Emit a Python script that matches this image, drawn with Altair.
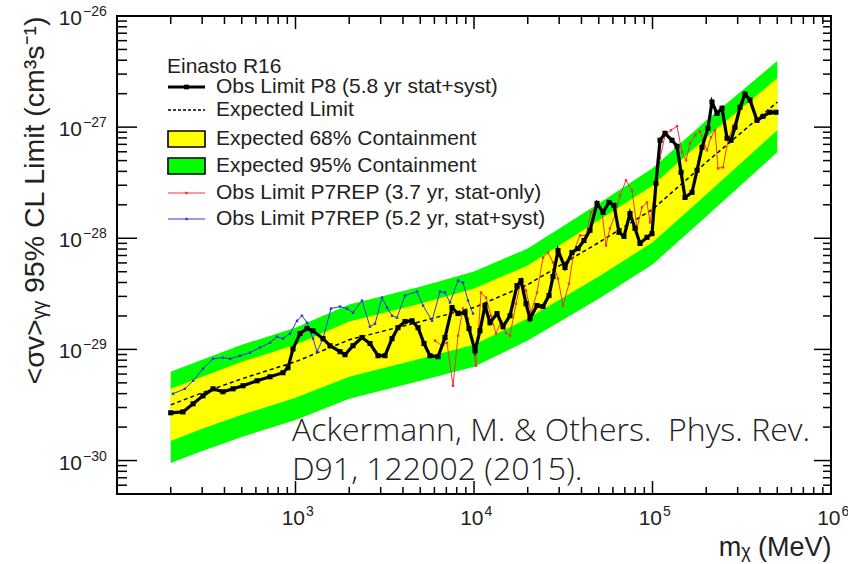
import json
import altair as alt
import pandas as pd

# ---------------- data ----------------
band_mass = [200, 300, 500, 1000, 2000, 5000, 10000, 20000, 50000, 100000, 200000, 500000]
c95_hi = [6.30e-30, 8.07e-30, 1.10e-29, 1.57e-29, 2.53e-29, 3.67e-29, 5.02e-29, 8.09e-29, 2.06e-28, 4.26e-28, 1.15e-27, 3.93e-27]
c95_lo = [9.5e-31, 1.22e-30, 1.63e-30, 2.32e-30, 3.59e-30, 5.22e-30, 6.98e-30, 1.20e-29, 2.86e-29, 5.81e-29, 1.57e-28, 5.94e-28]
c68_hi = [4.43e-30, 5.67e-30, 7.73e-30, 1.10e-29, 1.78e-29, 2.58e-29, 3.53e-29, 5.69e-29, 1.45e-28, 2.99e-28, 8.08e-28, 2.76e-27]
c68_lo = [1.50e-30, 1.93e-30, 2.58e-30, 3.67e-30, 5.67e-30, 8.25e-30, 1.10e-29, 1.90e-29, 4.52e-29, 9.18e-29, 2.48e-28, 9.39e-28]
expected = [3.17e-30, 4.07e-30, 5.44e-30, 7.75e-30, 1.22e-29, 1.78e-29, 2.38e-29, 3.83e-29, 9.16e-29, 1.82e-28, 4.82e-28, 1.68e-27]

p8_mass = [200, 234, 267, 303, 345, 392, 447, 508, 609, 720, 851, 908, 968, 1060, 1160, 1253,
           1426, 1561, 1776, 1894, 2100, 2358, 2615, 2899, 3172, 3473, 3752, 4107, 4495, 4858,
           5248, 5670, 6285, 6879, 7530, 8137, 8906, 9376, 10130, 10800, 11520, 12290, 13460,
           14540, 15910, 17410, 18340, 19560, 20590, 22540, 24350, 26320, 27710, 29550, 32350,
           35400, 38250, 41330, 44660, 48880, 52810, 57060, 60850, 64920, 69240, 74800, 79800,
           85110, 93150, 99360, 104600, 110200, 117500, 128600, 137200, 144500, 152100, 166500,
           177600, 189400, 204600, 215400, 229800, 245200, 261500, 275400, 289900, 309300,
           329900, 351800, 385100, 415900, 455300, 491800]
p8_limit = [2.69e-30, 2.74e-30, 3.24e-30, 3.82e-30, 4.42e-30, 4.16e-30, 4.42e-30, 4.71e-30, 5.22e-30,
            5.67e-30, 6.17e-30, 6.84e-30, 1.01e-29, 1.39e-29, 1.54e-29, 1.47e-29, 1.25e-29, 1.08e-29,
            9.54e-30, 8.96e-30, 1.08e-29, 1.28e-29, 1.13e-29, 8.78e-30, 8.78e-30, 1.25e-29, 1.57e-29,
            1.78e-29, 1.81e-29, 1.57e-29, 1.13e-29, 8.78e-30, 8.60e-30, 1.28e-29, 2.38e-29, 2.10e-29,
            2.14e-29, 1.54e-29, 9.73e-30, 1.47e-29, 2.48e-29, 1.74e-29, 2.10e-29, 1.60e-29, 2.01e-29,
            3.75e-29, 4.16e-29, 2.58e-29, 1.89e-29, 2.48e-29, 2.43e-29, 3.05e-29, 4.52e-29, 7.76e-29,
            5.45e-29, 7.45e-29, 8.09e-29, 9.55e-29, 1.18e-28, 2.06e-28, 1.71e-28, 2.10e-28, 1.98e-28,
            1.13e-28, 1.04e-28, 1.67e-28, 1.23e-28, 8.98e-29, 1.02e-28, 1.10e-28, 3.12e-28, 7.62e-28,
            8.81e-28, 7.62e-28, 6.73e-28, 3.92e-28, 2.33e-28, 2.59e-28, 4.09e-28, 6.59e-28, 9.77e-28,
            1.68e-27, 1.33e-27, 1.48e-27, 7.94e-28, 7.62e-28, 9.98e-28, 1.51e-27, 1.98e-27, 1.75e-27,
            1.15e-27, 1.25e-27, 1.36e-27, 1.36e-27]

p7_syst_mass = [206, 240, 267, 303, 345, 392, 430, 489, 556, 633, 720, 788, 851, 932, 1020, 1087,
                1160, 1253, 1320, 1426, 1581, 1776, 1943, 2100, 2358, 2615, 2788, 3052, 3255, 3473,
                3703, 4107, 4795, 5181, 5817, 6449, 6879, 7337, 8137, 8678, 9257, 9872]
p7_syst_limit = [3.99e-30, 4.42e-30, 5.22e-30, 6.70e-30, 8.24e-30, 8.42e-30, 8.24e-30, 8.78e-30,
                 9.34e-30, 1.04e-29, 1.15e-29, 1.30e-29, 1.25e-29, 1.39e-29, 1.81e-29, 2.01e-29,
                 1.74e-29, 1.25e-29, 9.54e-30, 1.25e-29, 2.33e-29, 2.43e-29, 2.33e-29, 2.14e-29,
                 2.75e-29, 1.60e-29, 1.70e-29, 2.92e-29, 2.38e-29, 2.01e-29, 1.93e-29, 3.05e-29,
                 3.31e-29, 2.48e-29, 1.81e-29, 3.31e-29, 3.25e-29, 2.64e-29, 4.16e-29, 3.99e-29,
                 2.75e-29, 2.10e-29]

p7_stat_mass = [6046, 6617, 7059, 7627, 8137, 8678, 9257, 9745, 10260, 10950, 11680, 12450, 13280,
                14170, 15110, 15910, 17190, 18340, 19560, 20860, 22540, 24350, 25980, 27710, 29550,
                31520, 34060, 36330, 39260, 42420, 45240, 48880, 52130, 54890, 57800, 62460, 65760,
                71060, 76780, 81900, 87350, 93150, 96830, 103300, 110200, 117500, 126900, 137200,
                146300, 154100, 162300, 173100, 184600, 191900, 202000, 212700, 224000, 232800,
                248300, 264900, 282500, 301300, 321400]
p7_stat_limit = [1.20e-29, 1.08e-29, 1.15e-29, 4.71e-30, 1.33e-29, 2.33e-29, 1.89e-29, 1.20e-29,
                 7.13e-30, 3.25e-29, 2.92e-29, 2.01e-29, 1.39e-29, 1.78e-29, 1.41e-29, 1.33e-29,
                 2.58e-29, 4.16e-29, 3.38e-29, 2.14e-29, 3.25e-29, 6.71e-29, 7.45e-29, 6.05e-29,
                 4.34e-29, 2.48e-29, 3.91e-29, 7.76e-29, 1.06e-28, 1.06e-28, 1.71e-28, 1.98e-28,
                 1.71e-28, 8.61e-29, 1.23e-28, 1.71e-28, 2.43e-28, 3.32e-28, 2.70e-28, 1.23e-28,
                 1.90e-28, 2.10e-28, 1.39e-28, 2.70e-28, 5.24e-28, 8.45e-28, 9.38e-28, 1.02e-27,
                 5.94e-28, 5.03e-28, 7.16e-28, 8.45e-28, 9.18e-28, 7.62e-28, 6.19e-28, 8.11e-28,
                 9.38e-28, 4.26e-28, 4.35e-28, 7.62e-28, 9.98e-28, 1.33e-27, 1.64e-27]

legend_title = "Einasto R16"
legend_labels = ["Obs Limit P8 (5.8 yr stat+syst)", "Expected Limit",
                 "Expected 68% Containment", "Expected 95% Containment",
                 "Obs Limit P7REP (3.7 yr, stat-only)", "Obs Limit P7REP (5.2 yr, stat+syst)"]

x_label_values = [1e3, 1e4, 1e5, 1e6]
x_label_exp = ["3", "4", "5", "6"]
y_label_values = [1e-30, 1e-29, 1e-28, 1e-27, 1e-26]
y_label_exp = ["\u221230", "\u221229", "\u221228", "\u221227", "\u221226"]
x_major = [1e2, 1e3, 1e4, 1e5, 1e6]
y_major = [1e-30, 1e-29, 1e-28, 1e-27, 1e-26]
x_minor = [m * 10.0 ** k for k in range(2, 6) for m in range(2, 10)]
y_minor = [m * 10.0 ** k for k in range(-31, -26) for m in range(2, 10) if m * 10.0 ** k >= 5e-31]

x_title = "mᵪ (MeV)"
y_title = "<σv>ᵧᵧ 95% CL Limit (cm³s⁻¹)"
caption = ["Ackermann, M. & Others.\u00a0 Phys. Rev.", "D91, 122002 (2015)."]

# ---------------- styling ----------------
W, H = 714, 478
FONT = "Liberation Sans"
TXT = "#222222"
GREEN, YELLOW, RED, BLUE = "#00ff00", "#ffff00", "#e8383c", "#3535e0"
XS = alt.Scale(type="log", domain=[100, 1e6], nice=False)
YS = alt.Scale(type="log", domain=[5e-31, 1e-26], nice=False)

band = pd.DataFrame({"mass": band_mass, "g_hi": c95_hi, "g_lo": c95_lo,
                     "y_hi": c68_hi, "y_lo": c68_lo, "exp": expected})
p8 = pd.DataFrame({"mass": p8_mass, "v": p8_limit})
p7a = pd.DataFrame({"mass": p7_stat_mass, "v": p7_stat_limit})
p7b = pd.DataFrame({"mass": p7_syst_mass, "v": p7_syst_limit})

x_axis = alt.Axis(values=x_label_values, labels=False, ticks=False, tickSize=0, domain=False,
                  grid=False, title=x_title, titleFont=FONT, titleFontSize=27,
                  titleFontWeight="normal", titleColor=TXT, titleX=714, titleY=53,
                  titleAlign="right", titleBaseline="middle")
y_axis = alt.Axis(values=y_label_values, labels=False, ticks=False, tickSize=0, domain=False,
                  grid=False, title=y_title, titleFont=FONT, titleFontSize=28.5,
                  titleFontWeight="normal", titleColor=TXT, titleX=-74, titleY=0,
                  titleAngle=270, titleAlign="right", titleBaseline="alphabetic")

X = lambda f: alt.X(f, scale=XS)
Y = lambda f: alt.Y(f, scale=YS)

green = alt.Chart(band).mark_area(color=GREEN).encode(
    x=alt.X("mass:Q", scale=XS, axis=x_axis),
    y=alt.Y("g_lo:Q", scale=YS, axis=y_axis),
    y2="g_hi:Q")
yellow = alt.Chart(band).mark_area(color=YELLOW).encode(
    x=X("mass:Q"), y=Y("y_lo:Q"), y2="y_hi:Q")
exp_line = alt.Chart(band).mark_line(color="black", strokeWidth=1.5, strokeDash=[4, 3]).encode(
    x=X("mass:Q"), y=Y("exp:Q"))


def series(df, color, width, marker_size):
    base = alt.Chart(df).encode(x=X("mass:Q"), y=Y("v:Q"))
    return [base.mark_line(color=color, strokeWidth=width),
            base.mark_point(color=color, filled=True, size=marker_size, shape="square", opacity=1)]


red_layers = series(p7a, RED, 1, 6)
blue_layers = series(p7b, BLUE, 1, 6)
black_layers = series(p8, "black", 3.2, 26)


def xticks(vals, y0, y1):
    return alt.Chart(pd.DataFrame({"t": vals})).mark_rule(color="black", strokeWidth=1.5).encode(
        x=X("t:Q"), y=alt.value(y0), y2=alt.value(y1))


def yticks(vals, x0, x1):
    return alt.Chart(pd.DataFrame({"t": vals})).mark_rule(color="black", strokeWidth=1.5).encode(
        y=Y("t:Q"), x=alt.value(x0), x2=alt.value(x1))


tick_layers = [
    xticks(x_major, H, H - 13), xticks(x_minor, H, H - 7),
    xticks(x_major, 0, 13), xticks(x_minor, 0, 8),
    yticks(y_major, 0, 20), yticks(y_minor, 0, 10),
    yticks(y_major, W, W - 17), yticks(y_minor, W, W - 8),
]

# tick labels as "10" with a raised exponent, placed through the scales
xl = pd.DataFrame({"v": x_label_values, "base": ["10"] * 4, "exp": x_label_exp})
yl = pd.DataFrame({"v": y_label_values, "base": ["10"] * 5, "exp": y_label_exp})
label_layers = [
    alt.Chart(xl).mark_text(align="right", baseline="middle", dx=9.5, font=FONT, fontSize=21,
                            color=TXT).encode(x=X("v:Q"), y=alt.value(H + 25), text="base:N"),
    alt.Chart(xl).mark_text(align="left", baseline="middle", dx=10.5, font=FONT, fontSize=14,
                            color=TXT).encode(x=X("v:Q"), y=alt.value(H + 18), text="exp:N"),
    alt.Chart(yl).mark_text(align="right", baseline="middle", dy=3, font=FONT, fontSize=21,
                            color=TXT).encode(y=Y("v:Q"), x=alt.value(-35), text="base:N"),
    alt.Chart(yl).mark_text(align="left", baseline="middle", dy=-4, font=FONT, fontSize=14,
                            color=TXT).encode(y=Y("v:Q"), x=alt.value(-34), text="exp:N"),
]

cap_df = pd.DataFrame({"line": caption})
cap_layers = [
    alt.Chart(cap_df.iloc[[i]]).mark_text(align="left", baseline="alphabetic", font="Open Sans",
                                          fontWeight=300, fontSize=32, color=TXT).encode(
        x=alt.value(175), y=alt.value(425 + 39 * i), text="line:N")
    for i in range(2)
]

# ---------------- legend (drawn in the plot, ROOT style) ----------------
LX0, LX1 = 51, 88
LTX = 99
LFS = 21
ROWS = [71, 94, 123, 150, 177, 203]
leg_df = pd.DataFrame({"label": legend_labels})
one = pd.DataFrame({"title": [legend_title]})

leg_layers = [
    alt.Chart(one).mark_text(align="left", baseline="middle", font=FONT, fontSize=LFS,
                             color=TXT).encode(x=alt.value(LX0 - 1), y=alt.value(51), text="title:N")
]
for i, lab in enumerate(legend_labels):
    leg_layers.append(
        alt.Chart(leg_df.iloc[[i]]).mark_text(align="left", baseline="middle", font=FONT,
                                              fontSize=LFS, color=TXT).encode(
            x=alt.value(LTX), y=alt.value(ROWS[i]), text="label:N"))

leg_layers.append(alt.Chart(one).mark_rule(color="black", strokeWidth=3).encode(
    x=alt.value(LX0), x2=alt.value(LX1), y=alt.value(ROWS[0])))
leg_layers.append(alt.Chart(one).mark_point(color="black", filled=True, shape="square", size=22,
                                            opacity=1).encode(
    x=alt.value((LX0 + LX1) / 2), y=alt.value(ROWS[0])))
leg_layers.append(alt.Chart(one).mark_rule(color="black", strokeWidth=1.5, strokeDash=[3, 2]).encode(
    x=alt.value(LX0), x2=alt.value(LX1), y=alt.value(ROWS[1])))
for i, col in [(2, YELLOW), (3, GREEN)]:
    leg_layers.append(alt.Chart(one).mark_rect(fill=col, stroke="black", strokeWidth=1.6).encode(
        x=alt.value(LX0), x2=alt.value(LX1), y=alt.value(ROWS[i] - 8), y2=alt.value(ROWS[i] + 8)))
for i, col in [(4, RED), (5, BLUE)]:
    leg_layers.append(alt.Chart(one).mark_rule(color=col, strokeWidth=1).encode(
        x=alt.value(LX0), x2=alt.value(LX1), y=alt.value(ROWS[i])))
    leg_layers.append(alt.Chart(one).mark_point(color=col, filled=True, shape="square", size=6,
                                                opacity=1).encode(
        x=alt.value((LX0 + LX1) / 2), y=alt.value(ROWS[i])))

chart = alt.layer(
    green, yellow, exp_line, *red_layers, *blue_layers, *black_layers,
    *tick_layers, *label_layers, *cap_layers, *leg_layers
).properties(
    width=W, height=H,
    autosize=alt.AutoSizeParams(type="none"),
    padding={"left": 117, "top": 16, "right": 17, "bottom": 70},
    background="white",
).configure_view(stroke="black", strokeWidth=2)

chart.save("out.html", embed_options={"renderer": "svg", "actions": False})
